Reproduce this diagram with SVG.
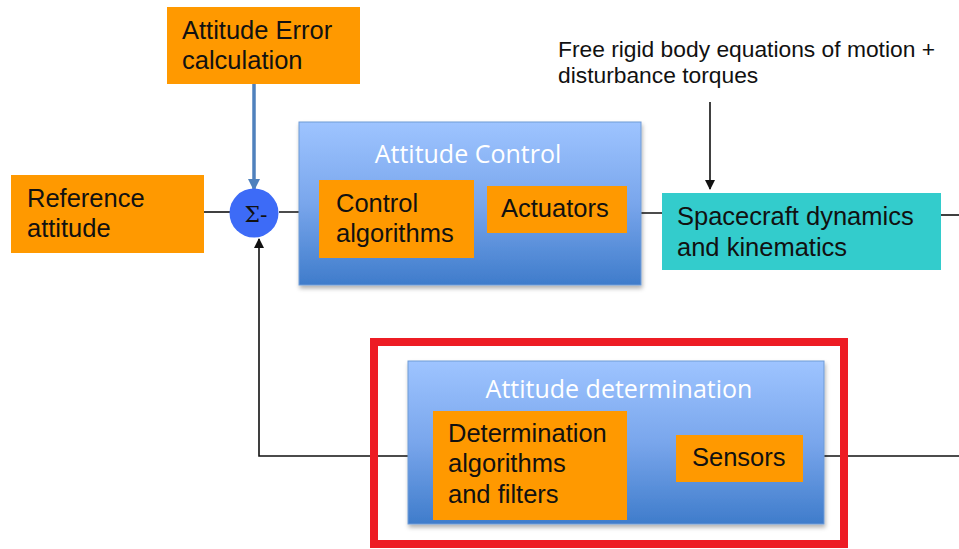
<svg xmlns="http://www.w3.org/2000/svg" width="959" height="549" viewBox="0 0 959 549">
<style>
.or{fill:#FF9900}
.tx{font-family:"Liberation Sans",Arial,sans-serif;font-size:25.5px;fill:#111}
.ttl{font-family:"Open Sans","Liberation Sans",sans-serif;font-size:25px;fill:#fff;text-anchor:middle}
.ln{stroke:#111;stroke-width:1.6;fill:none}
.grp{fill:url(#bg);stroke:#6F9BD6;stroke-width:1}
.fr{font-family:"Liberation Sans",Arial,sans-serif;font-size:22.8px;fill:#111}
</style>
<defs>
<linearGradient id="bg" x1="0" y1="0" x2="0" y2="1">
<stop offset="0" stop-color="#9EC4FF"/>
<stop offset="0.5" stop-color="#79A6EC"/>
<stop offset="1" stop-color="#3F7CCB"/>
</linearGradient>
<filter id="sh" x="-5%" y="-5%" width="115%" height="120%">
<feDropShadow dx="1" dy="3" stdDeviation="2" flood-color="#000" flood-opacity="0.3"/>
</filter>
<marker id="ab" markerWidth="10" markerHeight="10" refX="9" refY="5" orient="auto" markerUnits="userSpaceOnUse">
<path d="M0,0 L10,5 L0,10 Z" fill="#111"/>
</marker>
<marker id="abl" markerWidth="12" markerHeight="12" refX="10" refY="6" orient="auto" markerUnits="userSpaceOnUse">
<path d="M0,0 L12,6 L0,12 Z" fill="#4F81BD"/>
</marker>
</defs>
<rect width="959" height="549" fill="#fff"/>

<g id="connectors">
<line class="ln" x1="204" y1="212" x2="230" y2="212"/>
<line class="ln" x1="279" y1="212" x2="319" y2="212"/>
<line class="ln" x1="474" y1="214" x2="487" y2="214"/>
<line class="ln" x1="627" y1="213" x2="662" y2="213"/>
<line class="ln" x1="941" y1="215" x2="959" y2="215"/>
<line class="ln" x1="710" y1="102" x2="710" y2="189" marker-end="url(#ab)"/>
<line x1="254" y1="84" x2="254" y2="189" stroke="#4F81BD" stroke-width="3.5" marker-end="url(#abl)"/>
<polyline class="ln" points="959,456 803,456"/>
<polyline class="ln" points="676,456 627,456"/>
<polyline class="ln" points="433,456 259,456 259,239" marker-end="url(#ab)"/>
</g>

<g id="attitude-error">
<rect class="or" x="167" y="7" width="193" height="77"/>
<text class="tx" x="182" y="39">Attitude Error</text>
<text class="tx" x="182" y="69">calculation</text>
</g>

<g id="reference-attitude">
<rect class="or" x="11" y="175" width="193" height="78"/>
<text class="tx" x="27" y="207">Reference</text>
<text class="tx" x="27" y="237">attitude</text>
</g>

<g id="sum">
<circle cx="254" cy="213" r="24.5" fill="#3D6BF7"/>
<text x="256" y="222" text-anchor="middle" font-family="DejaVu Serif,serif" font-size="22" fill="#111">Σ-</text>
</g>

<g id="attitude-control">
<rect class="grp" x="299" y="122" width="342" height="163" filter="url(#sh)"/>
<text class="ttl" x="468" y="163">Attitude Control</text>
</g>
<g id="control-algorithms">
<rect class="or" x="319" y="180" width="155" height="78"/>
<text class="tx" x="336" y="212">Control</text>
<text class="tx" x="336" y="242">algorithms</text>
</g>
<g id="actuators">
<rect class="or" x="487" y="186" width="140" height="47"/>
<text class="tx" x="501" y="217">Actuators</text>
</g>

<g id="spacecraft">
<rect x="662" y="193" width="279" height="77" fill="#33CCCC"/>
<text class="tx" x="677" y="225">Spacecraft dynamics</text>
<text class="tx" x="677" y="256">and kinematics</text>
</g>

<g id="disturbance">
<text class="fr" x="558" y="57">Free rigid body equations of motion +</text>
<text class="fr" x="558" y="83">disturbance torques</text>
</g>

<g id="highlight">
<rect x="374" y="342" width="470" height="202" fill="none" stroke="#ED1C24" stroke-width="8"/>
</g>

<g id="attitude-determination">
<rect class="grp" x="408" y="361" width="416" height="163" filter="url(#sh)"/>
<text class="ttl" x="619" y="398">Attitude determination</text>
</g>
<g id="determination-algorithms">
<rect class="or" x="433" y="411" width="194" height="109"/>
<text class="tx" x="448" y="442">Determination</text>
<text class="tx" x="448" y="472">algorithms</text>
<text class="tx" x="448" y="503">and filters</text>
</g>
<g id="sensors">
<rect class="or" x="676" y="435" width="127" height="47"/>
<text class="tx" x="692" y="466">Sensors</text>
</g>
</svg>
